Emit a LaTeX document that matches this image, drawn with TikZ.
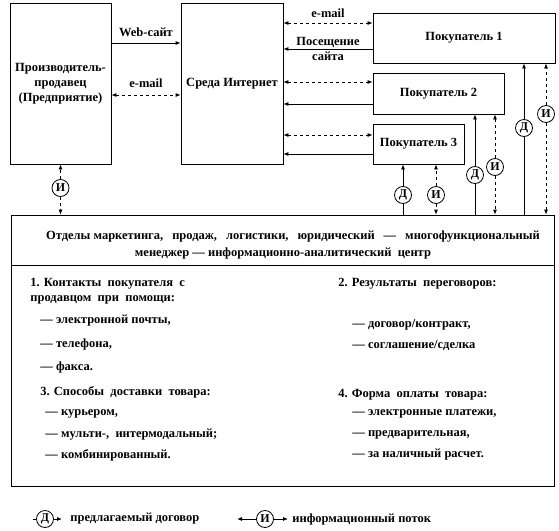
\documentclass[tikz,border=0pt]{standalone}
\usepackage{fontspec}
\setmainfont{Liberation Serif}
\usetikzlibrary{arrows.meta}

\newcommand{\prob}{\hspace{9pt}}

\tikzset{
  blok/.style={draw, thick, minimum width=#1, inner sep=2pt, font=\bfseries\fontsize{12.5}{15}\selectfont, align=center},
  krug/.style={draw, circle, minimum size=17pt, inner sep=0pt, font=\bfseries\fontsize{12}{12}\selectfont},
  metka/.style={font=\bfseries\fontsize{12.5}{15}\selectfont, inner sep=0pt},
  tekst/.style={font=\bfseries\fontsize{12.5}{15}\selectfont, inner sep=0pt, anchor=west},
  potok/.style={dashed, {Latex[length=5pt,width=4pt]}-{Latex[length=5pt,width=4pt]}},
  dogovor/.style={-{Latex[length=5pt,width=4pt]}},
}

\begin{document}
\begin{tikzpicture}[x=1pt, y=-1pt, thick]
				\useasboundingbox (0, 0) rectangle (559, 530);

				\node[blok=101pt, minimum height=161pt](prod) at (60.5, 83.5){Производитель-\\продавец\\(Предприятие)};
				\node[blok=102pt, minimum height=161pt](net) at (232, 83.5){Среда Интернет};
				\node[blok=182pt, minimum height=50pt](pok1) at (464, 38){Покупатель 1};
				\node[blok=131pt, minimum height=41pt](pok2) at (438.5, 93.5){Покупатель 2};
				\node[blok=91pt, minimum height=40pt](pok3) at (418.5, 144){Покупатель 3};
				\node[blok=543pt, minimum height=271pt](otd) at (282.5, 350.5){};
				\draw (otd.west |- 0, 265)--(otd.east |- 0, 265);

				% producer -- internet
				\draw[dogovor] (prod.east |- 0, 43)--node[metka, above=6pt]{Web-сайт}(net.west |- 0, 43);
				\draw[potok] (prod.east |- 0, 95)--node[metka, above=7pt]{e-mail}(net.west |- 0, 95);

				% internet -- buyers
				\draw[potok] (net.east |- 0, 23)--node[metka, above=5pt]{e-mail}(pok1.west |- 0, 23);
				\draw[dogovor] (pok1.west |- 0, 49)--node[metka, align=center]{Посещение\\сайта}(net.east |- 0, 49);
				\draw[potok] (net.east |- 0, 82)--(pok2.west |- 0, 82);
				\draw[dogovor] (pok2.west |- 0, 104)--(net.east |- 0, 104);
				\draw[potok] (net.east |- 0, 135)--(pok3.west |- 0, 135);
				\draw[dogovor] (pok3.west |- 0, 154)--(net.east |- 0, 154);

				% flows from the centre
				\node[krug](i0) at (60.5, 188){И};
				\draw[dashed, -{Latex[length=5pt,width=4pt]}] (i0)--(prod.south -| i0);
				\draw[dashed, -{Latex[length=5pt,width=4pt]}] (i0)--(otd.north -| i0);

				\node[krug](d3) at (403, 195){Д};
				\node[krug](i3) at (436, 195){И};
				\node[krug](d2) at (475, 175){Д};
				\node[krug](i2) at (495, 167){И};
				\node[krug](d1) at (524, 128){Д};
				\node[krug](i1) at (546, 114){И};

				\foreach \d/\p in {d3/pok3, d2/pok2, d1/pok1}{
					\draw (otd.north -| \d)--(\d);
					\draw[dogovor] (\d)--(\p.south -| \d);
				}
				\foreach \i/\p in {i3/pok3, i2/pok2, i1/pok1}{
					\draw[dashed, -{Latex[length=5pt,width=4pt]}] (\i)--(\p.south -| \i);
					\draw[dashed, -{Latex[length=5pt,width=4pt]}] (\i)--(otd.north -| \i);
				}

				% centre text
				\node[metka](zag1) at (293, 237){Отделы маркетинга,\prob продаж,\prob логистики,\prob юридический\prob —\prob многофункциональный};
				\node[metka](zag2) at (283, 253){менеджер — информационно-аналитический\ \ центр};

				\node[tekst](a1) at (30, 284){1. Контакты\ \ покупателя\ \ с};
				\node[tekst](a2) at (30, 300){продавцом\ \ при\ \ помощи:};
				\node[tekst](a3) at (40, 321){— электронной почты,};
				\node[tekst](a4) at (40, 344){— телефона,};
				\node[tekst](a5) at (40, 367){— факса.};
				\node[tekst](c1) at (40, 392){3. Способы\ \ доставки\ \ товара:};
				\node[tekst](c2) at (45, 414){— курьером,};
				\node[tekst](c3) at (45, 435){— мульти-,\ \ интермодальный;};
				\node[tekst](c4) at (45, 455){— комбинированный.};

				\node[tekst](b1) at (338, 284){2. Результаты\ \ переговоров:};
				\node[tekst](b2) at (352, 325){— договор/контракт,};
				\node[tekst](b3) at (352, 345){— соглашение/сделка};
				\node[tekst](e1) at (338, 395){4. Форма\ \ оплаты\ \ товара:};
				\node[tekst](e2) at (352, 414){— электронные платежи,};
				\node[tekst](e3) at (352, 435){— предварительная,};
				\node[tekst](e4) at (352, 455){— за наличный расчет.};

				% legend
				\node[krug](ld) at (45, 519){Д};
				\coordinate(ld0) at (33, 519);
				\coordinate(ld1) at (62, 519);
				\draw (ld0)--(ld);
				\draw[dogovor] (ld)--(ld1);
				\node[tekst](ldt) at (70, 519){предлагаемый договор};

				\node[krug](li) at (265, 519){И};
				\coordinate(li0) at (237, 519);
				\coordinate(li1) at (288, 519);
				\draw[-{Latex[length=5pt,width=4pt]}] (li)--(li0);
				\draw[-{Latex[length=5pt,width=4pt]}] (li)--(li1);
				\node[tekst](lit) at (292, 519){информационный поток};
\end{tikzpicture}
\end{document}
